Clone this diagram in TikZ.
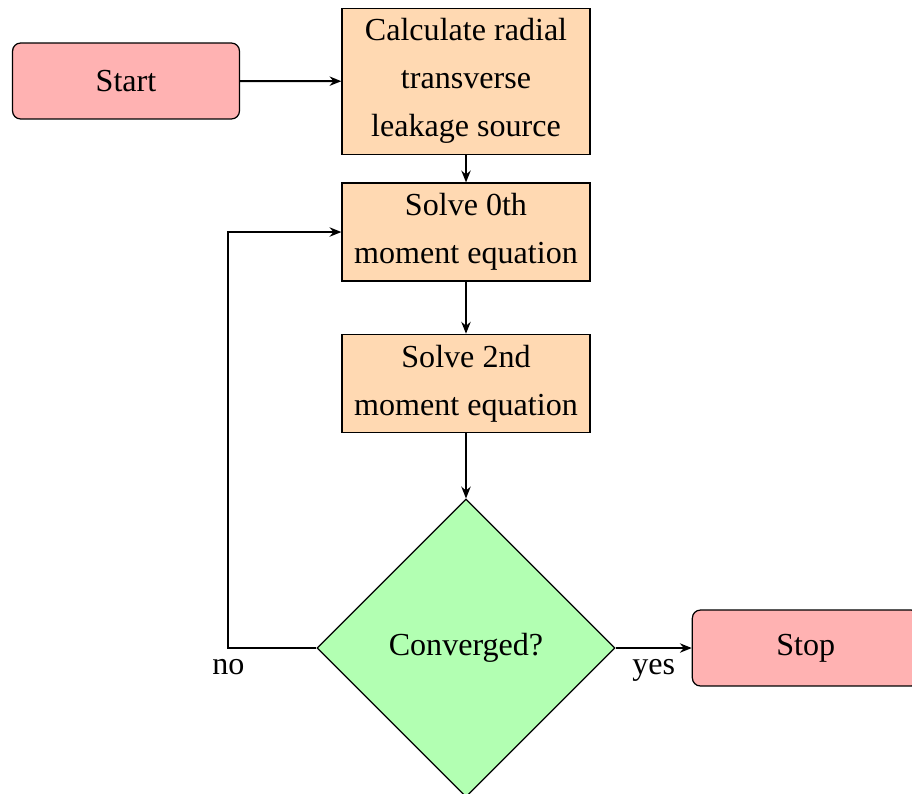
\documentclass[tikz,border=0pt]{standalone}
\usepackage{fontspec}
\setmainfont{Liberation Serif}
\usetikzlibrary{shapes.geometric,arrows.meta}

\tikzset{
  base/.style={draw=black, line width=0.4pt, align=center, inner sep=0pt,
    font=\fontsize{10.35pt}{15.5pt}\selectfont},
  terminal/.style={base, fill=red!30, rounded corners=2.6pt,
    minimum width=73.2pt, minimum height=24.5pt},
  process/.style={base, fill=orange!30, minimum width=80pt},
  decision/.style={base, fill=green!30, diamond, aspect=1,
    minimum width=96.1pt, minimum height=96.1pt},
  flow/.style={line width=0.65pt, -{Stealth[length=3.8pt,width=3pt]}},
  edgelabel/.style={font=\fontsize{10.35pt}{12pt}\selectfont}
}

\begin{document}
\begin{tikzpicture}[x=0.3226pt, y=-0.3226pt]
  \useasboundingbox (0,0) rectangle (912,793);

  % nodes
  \node[terminal] (start) at (126,81) {Start};
  \node[process, minimum height=47.1pt] (calc) at (466,81.2)
    {Calculate radial\\transverse\\leakage source};
  \node[process, minimum height=31.6pt] (solve0) at (466,232)
    {Solve 0th\\moment equation};
  \node[process, minimum height=31.6pt] (solve2) at (466,383.3)
    {Solve 2nd\\moment equation};
  \node[decision] (conv) at (466,648) {Converged?};
  \node[terminal] (stop) at (805.8,648) {Stop};
  \coordinate (loop) at (228.3,648);

  % connectors
  \draw[flow] (start.east) -- (calc.west);
  \draw[flow] (calc.south) -- (solve0.north);
  \draw[flow] (solve0.south) -- (solve2.north);
  \draw[flow] (solve2.south) -- (conv.north);
  \draw[flow] (conv.east) -- node[below, edgelabel] {yes} (stop.west);
  \draw[flow] (conv.west) -- (loop) node[below, edgelabel] {no} |- (solve0.west);
\end{tikzpicture}
\end{document}
